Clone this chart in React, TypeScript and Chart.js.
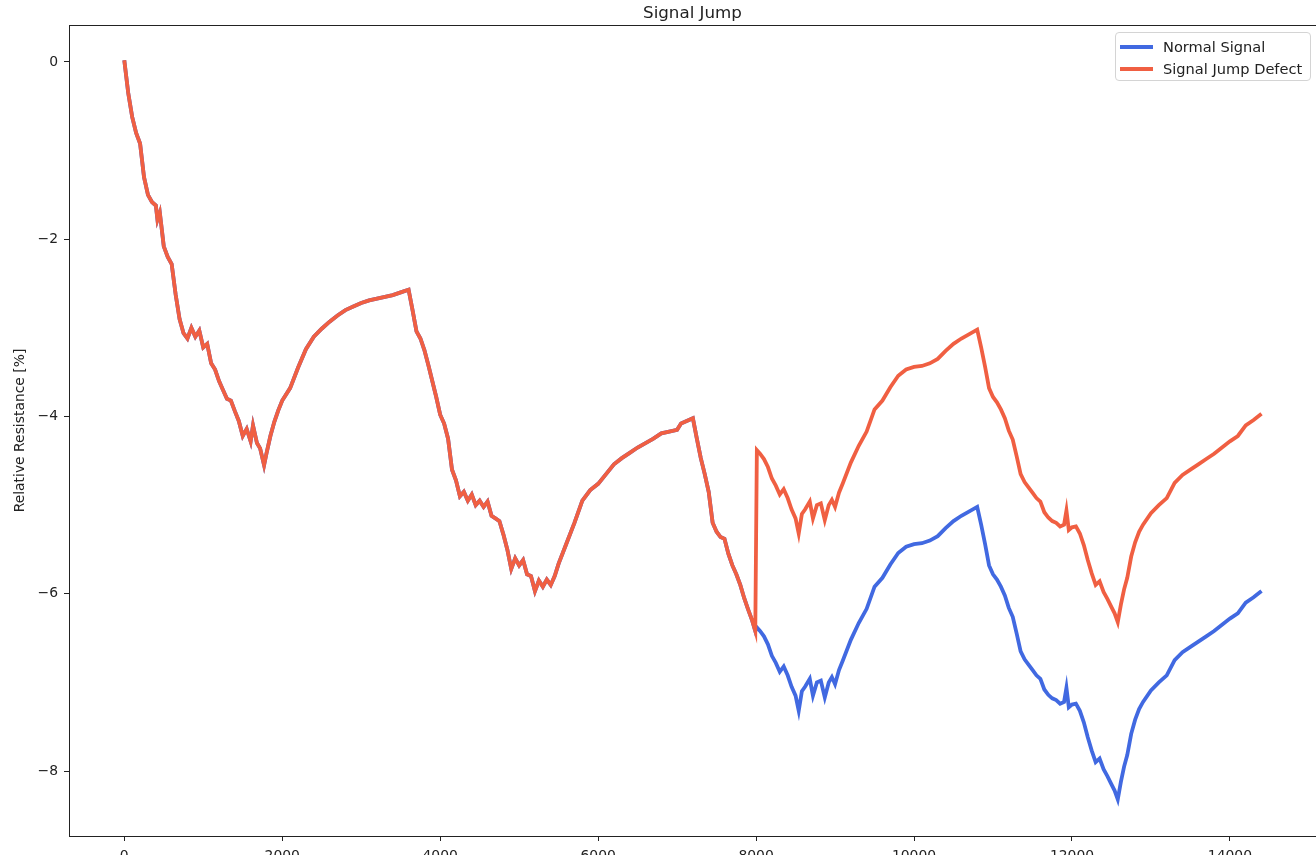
import { useEffect, useRef } from "react";
import { Chart, registerables } from "chart.js";

Chart.register(...registerables);

const chartTitle = "Signal Jump";
const yAxisTitle = "Relative Resistance [%]";
const seriesLabels = ["Normal Signal", "Signal Jump Defect"];
const seriesColors = ["#4169E1", "#F05F42"];

const xTicks = [0, 2000, 4000, 6000, 8000, 10000, 12000, 14000];
const yTicks = [0, -2, -4, -6, -8];

const sampleIndex = [
  0, 50, 100, 150, 200, 250, 300, 350, 400, 420, 450, 500, 550, 600, 650, 700, 750, 800, 850, 900,
  950, 1000, 1050, 1100, 1150, 1200, 1250, 1300, 1350, 1400, 1450, 1500, 1550, 1600, 1630, 1680, 1720, 1770, 1800, 1850,
  1900, 1950, 2000, 2100, 2200, 2300, 2400, 2500, 2600, 2700, 2800, 2900, 3000, 3100, 3200, 3300, 3400, 3500, 3600, 3650,
  3700, 3750, 3800, 3850, 3900, 3950, 4000, 4050, 4100, 4150, 4200, 4250, 4300, 4350, 4400, 4450, 4500, 4550, 4600, 4650,
  4700, 4750, 4800, 4850, 4900, 4950, 5000, 5050, 5100, 5150, 5200, 5250, 5300, 5350, 5400, 5450, 5500, 5600, 5700, 5800,
  5900, 6000, 6100, 6200, 6300, 6400, 6500, 6600, 6700, 6800, 6900, 7000, 7050, 7100, 7200, 7250, 7300, 7350, 7400, 7450,
  7500, 7550, 7600, 7650, 7700, 7750, 7800, 7850, 7900, 7950, 7990, 8010, 8050, 8100, 8150, 8200, 8250, 8300, 8350, 8400,
  8450, 8500, 8540, 8580, 8620, 8680, 8720, 8770, 8820, 8870, 8920, 8960, 9000, 9050, 9100, 9200, 9300, 9400, 9500, 9600,
  9700, 9800, 9900, 10000, 10100, 10200, 10300, 10400, 10500, 10600, 10700, 10800, 10850, 10900, 10950, 11000, 11050, 11100, 11150, 11200,
  11250, 11300, 11350, 11400, 11450, 11500, 11550, 11600, 11650, 11700, 11750, 11800, 11850, 11900, 11930, 11960, 12000, 12050, 12100, 12150,
  12200, 12250, 12300, 12350, 12400, 12450, 12500, 12540, 12580, 12620, 12660, 12700, 12750, 12800, 12850, 12900, 13000, 13100, 13200, 13300,
  13400, 13500, 13600, 13700, 13800, 13900, 14000, 14100, 14200, 14300, 14400,
];

const normalSignal = [
  0.02, -0.35, -0.62, -0.8, -0.92, -1.3, -1.5, -1.58, -1.62, -1.78, -1.7, -2.08, -2.2, -2.28, -2.62, -2.9, -3.06, -3.12, -3.0, -3.1,
  -3.03, -3.22, -3.18, -3.4, -3.47, -3.6, -3.7, -3.8, -3.82, -3.94, -4.05, -4.22, -4.14, -4.28, -4.1, -4.3, -4.36, -4.55, -4.42, -4.22,
  -4.06, -3.93, -3.82, -3.68, -3.45, -3.24, -3.1, -3.01, -2.93, -2.86, -2.8, -2.76, -2.72, -2.69, -2.67, -2.65, -2.63, -2.6, -2.57, -2.8,
  -3.04, -3.12, -3.25, -3.42, -3.6, -3.78, -3.98, -4.08, -4.25, -4.6, -4.72, -4.9, -4.85, -4.95, -4.88, -5.0, -4.95, -5.02, -4.96, -5.12,
  -5.15, -5.18, -5.33, -5.5, -5.72, -5.6, -5.68, -5.62, -5.78, -5.8, -5.97, -5.85, -5.92, -5.84, -5.9, -5.8, -5.66, -5.43, -5.2, -4.95,
  -4.83, -4.76, -4.65, -4.54, -4.47, -4.41, -4.35, -4.3, -4.25, -4.19, -4.17, -4.15, -4.08, -4.06, -4.02, -4.25, -4.47, -4.65, -4.85, -5.2,
  -5.3, -5.36, -5.38, -5.55, -5.68, -5.78, -5.9, -6.05, -6.18, -6.3, -6.42, -6.38, -6.42, -6.48, -6.57, -6.7, -6.78, -6.88, -6.82, -6.92,
  -7.05, -7.15, -7.32, -7.1, -7.05, -6.96, -7.15, -7.0, -6.98, -7.17, -7.0, -6.94, -7.02, -6.86, -6.75, -6.52, -6.33, -6.17, -5.92, -5.82,
  -5.67, -5.54, -5.47, -5.44, -5.43, -5.4, -5.35, -5.26, -5.18, -5.12, -5.07, -5.02, -5.22, -5.44, -5.68, -5.78, -5.84, -5.92, -6.02, -6.16,
  -6.26, -6.45, -6.65, -6.74, -6.8, -6.86, -6.92, -6.96, -7.08, -7.14, -7.18, -7.2, -7.24, -7.22, -7.06, -7.28, -7.25, -7.24, -7.32, -7.45,
  -7.62, -7.77, -7.9, -7.86, -7.98, -8.06, -8.15, -8.22, -8.32, -8.12, -7.95, -7.82, -7.58, -7.42, -7.3, -7.22, -7.09, -7.0, -6.92, -6.75,
  -6.66, -6.6, -6.54, -6.48, -6.42, -6.35, -6.28, -6.22, -6.1, -6.04, -5.97,
];

const jumpDefect = [
  0.02, -0.35, -0.62, -0.8, -0.92, -1.3, -1.5, -1.58, -1.62, -1.78, -1.7, -2.08, -2.2, -2.28, -2.62, -2.9, -3.06, -3.12, -3.0, -3.1,
  -3.03, -3.22, -3.18, -3.4, -3.47, -3.6, -3.7, -3.8, -3.82, -3.94, -4.05, -4.22, -4.14, -4.28, -4.1, -4.3, -4.36, -4.55, -4.42, -4.22,
  -4.06, -3.93, -3.82, -3.68, -3.45, -3.24, -3.1, -3.01, -2.93, -2.86, -2.8, -2.76, -2.72, -2.69, -2.67, -2.65, -2.63, -2.6, -2.57, -2.8,
  -3.04, -3.12, -3.25, -3.42, -3.6, -3.78, -3.98, -4.08, -4.25, -4.6, -4.72, -4.9, -4.85, -4.95, -4.88, -5.0, -4.95, -5.02, -4.96, -5.12,
  -5.15, -5.18, -5.33, -5.5, -5.72, -5.6, -5.68, -5.62, -5.78, -5.8, -5.97, -5.85, -5.92, -5.84, -5.9, -5.8, -5.66, -5.43, -5.2, -4.95,
  -4.83, -4.76, -4.65, -4.54, -4.47, -4.41, -4.35, -4.3, -4.25, -4.19, -4.17, -4.15, -4.08, -4.06, -4.02, -4.25, -4.47, -4.65, -4.85, -5.2,
  -5.3, -5.36, -5.38, -5.55, -5.68, -5.78, -5.9, -6.05, -6.18, -6.3, -6.42, -4.38, -4.42, -4.48, -4.57, -4.7, -4.78, -4.88, -4.82, -4.92,
  -5.05, -5.15, -5.32, -5.1, -5.05, -4.96, -5.15, -5.0, -4.98, -5.17, -5.0, -4.94, -5.02, -4.86, -4.75, -4.52, -4.33, -4.17, -3.92, -3.82,
  -3.67, -3.54, -3.47, -3.44, -3.43, -3.4, -3.35, -3.26, -3.18, -3.12, -3.07, -3.02, -3.22, -3.44, -3.68, -3.78, -3.84, -3.92, -4.02, -4.16,
  -4.26, -4.45, -4.65, -4.74, -4.8, -4.86, -4.92, -4.96, -5.08, -5.14, -5.18, -5.2, -5.24, -5.22, -5.06, -5.28, -5.25, -5.24, -5.32, -5.45,
  -5.62, -5.77, -5.9, -5.86, -5.98, -6.06, -6.15, -6.22, -6.32, -6.12, -5.95, -5.82, -5.58, -5.42, -5.3, -5.22, -5.09, -5.0, -4.92, -4.75,
  -4.66, -4.6, -4.54, -4.48, -4.42, -4.35, -4.28, -4.22, -4.1, -4.04, -3.97,
];

const FONT = "'DejaVu Sans', sans-serif";
const INK = "#222";

export default function App() {
  const canvasRef = useRef<HTMLCanvasElement | null>(null);

  useEffect(() => {
    if (!canvasRef.current) return;
    const toPoints = (ys: number[]) => sampleIndex.map((x, i) => ({ x, y: ys[i] }));
    const tickFont = { family: FONT, size: 13.9 };
    const chart = new Chart(canvasRef.current, {
      type: "line",
      data: {
        datasets: [
          {
            label: seriesLabels[0],
            data: toPoints(normalSignal),
            borderColor: seriesColors[0],
            backgroundColor: seriesColors[0],
            borderWidth: 3.8,
            pointRadius: 0,
            tension: 0,
            fill: false,
            order: 2,
          },
          {
            label: seriesLabels[1],
            data: toPoints(jumpDefect),
            borderColor: seriesColors[1],
            backgroundColor: seriesColors[1],
            borderWidth: 3.8,
            pointRadius: 0,
            tension: 0,
            fill: false,
            order: 1,
          },
        ],
      },
      options: {
        animation: false,
        responsive: false,
        devicePixelRatio: 1,
        parsing: false,
        normalized: true,
        layout: { padding: 0 },
        plugins: {
          legend: { display: false },
          tooltip: { enabled: false },
          title: { display: false },
        },
        events: [],
        scales: {
          x: {
            type: "linear",
            position: "bottom",
            min: -700,
            max: 15090,
            afterBuildTicks: (s: any) => {
              s.ticks = xTicks.map((v) => ({ value: v }));
            },
            afterFit: (s: any) => {
              s.height = 19;
            },
            ticks: {
              font: tickFont,
              color: INK,
              padding: 7,
              maxRotation: 0,
              autoSkip: false,
              callback: (v: any) => String(v),
            },
            grid: {
              drawOnChartArea: false,
              drawTicks: true,
              tickLength: 5,
              tickColor: INK,
              tickWidth: 1,
            },
            border: { display: true, color: INK, width: 1 },
          },
          xTop: {
            type: "linear",
            position: "top",
            min: -700,
            max: 15090,
            afterFit: (s: any) => {
              s.height = 25;
            },
            ticks: { display: false },
            grid: { display: false },
            border: { display: true, color: INK, width: 1 },
            title: {
              display: true,
              text: chartTitle,
              color: INK,
              font: { family: FONT, size: 16.7 },
              padding: { top: 4, bottom: 0 },
            },
          },
          y: {
            type: "linear",
            position: "left",
            min: -8.733,
            max: 0.417,
            afterBuildTicks: (s: any) => {
              s.ticks = yTicks.map((v) => ({ value: v }));
            },
            afterFit: (s: any) => {
              s.width = 69;
            },
            ticks: {
              font: tickFont,
              color: INK,
              padding: 6,
              callback: (v: any) => String(v).replace("-", "\u2212"),
            },
            grid: {
              drawOnChartArea: false,
              drawTicks: true,
              tickLength: 5,
              tickColor: INK,
              tickWidth: 1,
            },
            border: { display: true, color: INK, width: 1 },
            title: {
              display: true,
              text: yAxisTitle,
              color: INK,
              font: { family: FONT, size: 13.9 },
              padding: { top: 12, bottom: 0 },
            },
          },
        },
      } as any,
    });
    return () => chart.destroy();
  }, []);

  const legendRow = (i: number, top: number) => (
    <div key={i} style={{ position: "absolute", left: 0, top, height: 20, width: "100%" }}>
      <div
        style={{
          position: "absolute",
          left: 4,
          top: 8,
          width: 33,
          height: 3.8,
          background: seriesColors[i],
        }}
      />
      <div
        style={{
          position: "absolute",
          left: 47,
          top: 0,
          lineHeight: "20px",
          fontFamily: FONT,
          fontSize: 14.6,
          color: INK,
          whiteSpace: "nowrap",
        }}
      >
        {seriesLabels[i]}
      </div>
    </div>
  );

  return (
    <div
      style={{
        position: "fixed",
        left: 0,
        top: 0,
        width: 1316,
        height: 855,
        overflow: "hidden",
        background: "#fff",
      }}
    >
      <canvas ref={canvasRef} width={1316} height={855} style={{ display: "block" }} />
      <div
        style={{
          position: "absolute",
          left: 1115,
          top: 32,
          width: 196,
          height: 49,
          border: "1px solid #d4d4d4",
          borderRadius: 4,
          background: "rgba(255,255,255,0.8)",
          boxSizing: "border-box",
        }}
      >
        {legendRow(0, 4)}
        {legendRow(1, 26)}
      </div>
    </div>
  );
}
